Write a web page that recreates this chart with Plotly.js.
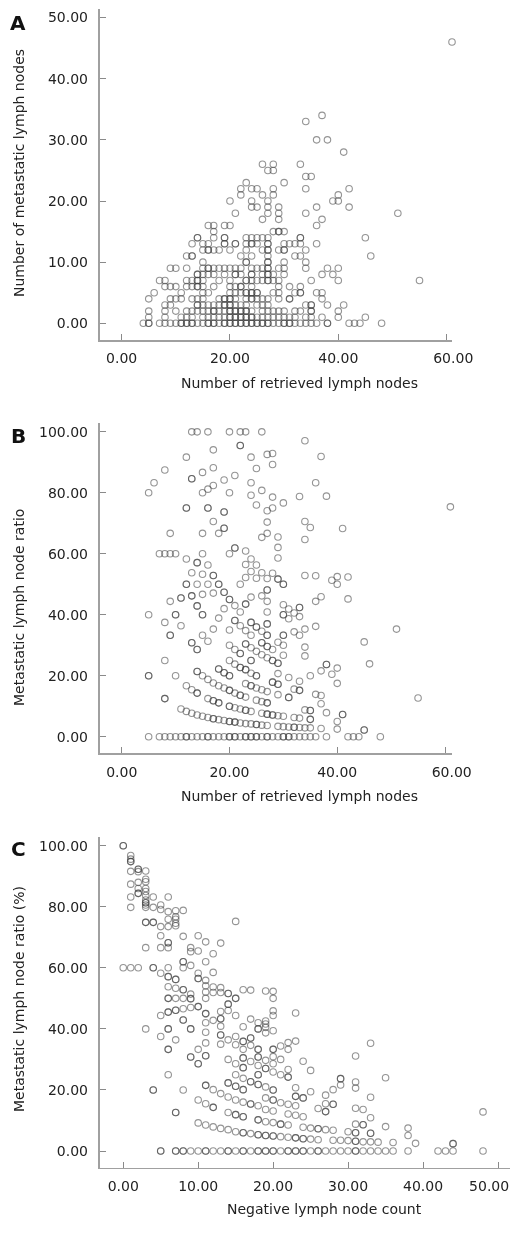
<!DOCTYPE html>
<html>
<head>
<meta charset="utf-8">
<script src="https://cdn.plot.ly/plotly-3.0.1.min.js"></script>
<style>html,body{margin:0;padding:0;background:#fff}#chart{width:531px;height:1233px;filter:blur(0.45px)}</style>
</head>
<body>
<div id="chart"></div>
<script>
const aLevels = [0,1,2,3,4,5,6,7,8,9,10,11,12,13,14,15,16,17,18,19,20,21,22,23,24,25,26,28,30,33,34,46];
const aXByLevel = [
 [4,5,7,8,9,10,11,12,13,14,15,16,17,18,19,20,21,22,23,24,25,26,27,28,29,30,31,32,33,34,35,36,38,42,43,44,48,12,13,16,17,19,20,21,22,23,24,25,26,27,30,31,11,5,38],
 [5,8,11,12,13,15,16,17,18,19,20,21,22,23,24,25,26,27,28,29,30,31,32,34,35,37,40,45,20,21,22,23,24],
 [5,8,10,12,13,14,15,16,17,18,19,20,21,22,23,24,26,27,28,29,30,32,33,35,40,17,20,21,22,23,35],
 [8,9,14,15,16,17,18,19,20,21,22,23,25,26,27,34,35,38,41,14,19,20,35],
 [5,9,10,11,13,14,15,18,19,20,21,23,24,25,26,27,29,31,37,19,20,24,31],
 [6,11,15,16,20,21,22,23,24,25,28,29,32,33,36,37,23,24,25,33],
 [8,9,10,12,13,14,15,17,20,21,22,24,29,31,33,14,22],
 [7,8,12,13,14,15,18,20,23,24,25,26,27,28,29,35,40,55,23,27,14],
 [14,15,16,17,19,21,22,24,26,27,28,30,37,39,14,21,24,27],
 [9,10,12,15,16,17,18,19,20,21,22,24,25,26,27,29,30,34,38,40,16,27],
 [15,23,27,30,34,23,27],
 [12,13,22,24,27,32,33,46,13],
 [15,16,17,18,20,23,26,27,29,30,34,16,27,30],
 [13,15,16,19,21,23,24,25,27,30,31,32,33,36,19,21,24,27],
 [14,17,19,23,24,25,26,27,33,45,14,19,33],
 [17,28,29,30,29],
 [16,17,19,20,36],
 [26,29,37],
 [21,27,29,34,51],
 [24,25,27,29,36,42],
 [20,24,27,39,40],
 [22,26,28,40],
 [22,24,25,28,34,42],
 [23,30],
 [34,35],
 [27,28],
 [26,28,33],
 [41],
 [36,38],
 [34],
 [37],
 [61]
];
const bZeroRow = [5,7,8,9,10,11,12,13,14,15,16,17,18,19,20,21,22,23,24,25,26,27,28,29,30,31,32,33,34,35,36,38,42,43,44,48,12,16,20,21,23,24,25,27,30,31];
const bPoints = [
 [13,100],[14,100],[16,100],[20,100],[22,100],[23,100],[26,100],[34,97.1],[22,95.5],[17,94.1],[12,91.7],[24,91.7],[37,91.9],[27,92.6],[28,92.9],[28,89.3],
 [8,87.5],[15,86.7],[17,88.2],[25,88],[13,84.6],[6,83.3],[19,84.2],[21,85.7],[24,83.3],[36,83.3],[5,80],[15,80],[16,81.2],[17,82.4],[20,80],[26,80.8],[24,79.2],[28,78.6],[33,78.8],[38,78.9],
 [30,76.7],[25,76],[28,75],[27,74.1],[12,75],[16,75],[19,73.7],[61,75.4],[17,70.6],[27,70.4],[34,70.6],[35,68.6],[41,68.3],[19,68.4],[9,66.7],[15,66.7],[18,66.7],[27,66.7],[26,65.4],[29,65.5],[34,64.7],
 [29,62.1],[21,61.9],[23,60.9],[7,60],[8,60],[9,60],[10,60],[15,60],[20,60],[12,58.3],[29,58.6],[24,58.3],[14,57.1],[16,56.3],[23,56.5],[25,56.3],
 [13,53.8],[15,53.3],[17,52.9],[26,53.8],[28,53.6],[24,54.2],[23,52.2],[25,52],[27,51.9],[29,51.7],[34,52.9],[36,52.8],[39,51.3],[40,52.5],[40,50],[42,52.4],
 [12,50],[14,50],[16,50],[18,50],[22,50],[30,50],[27,48.1],[19,47.4],[15,46.7],[17,47.1],[26,46.2],[24,45.8],[13,46.2],[11,45.5],[20,45],[9,44.4],[27,44.4],[36,44.4],[37,45.9],[42,45.2],
 [23,43.5],[30,43.3],[14,42.9],[21,43],[19,42],[31,41.9],[33,42.4],[22,40.9],[27,40.9],[32,40.6],[5,40],[10,40],[15,40],[30,40],[33,39.4],[31,38.7],[18,38.9],[8,37.5],[21,38.1],[24,37.5],[27,37],[11,36.4],[22,36.4],[25,36],[36,36.2],[34,35.3],[17,35.3],[20,35],[23,34.8],[26,34.6],[32,34.4],
 [30,33.3],[9,33.3],[15,33.3],[24,33.3],[27,33.3],[33,33.3],[16,31.3],[13,30.8],[26,30.8],[23,30.4],[29,31],[20,30],[27,29.6],[30,30],[34,29.4],[21,28.6],[24,29.2],[28,28.6],[25,28],[14,28.6],[22,27.3],[26,26.9],[30,26.7],[34,26.5],[27,25.9],
 [8,25],[20,25],[21,23.8],[24,25],[28,25],[29,24.1],[46,23.9],[38,23.7],[22,22.7],[23,22],[18,22.2],[37,21.6],[40,22.5],[14,21.4],[19,21],[24,20.8],[20,20],[25,20],[29,20.7],[39,20.5],[5,20],[10,20],[15,20],[16,18.8],[35,20],[31,19.4],[33,18.2],[17,17.6],[18,16.7],[28,17.9],[29,17.2],[40,17.5],
 [12,16.7],[13,15.4],[14,14.3],[19,16],[20,15.2],[21,14.3],[22,13.6],[23,13],[23,17.4],[24,16.7],[25,16],[26,15.4],[27,14.8],[32,15.6],[33,15.2],[29,13.8],[31,12.9],[36,13.9],[37,13.5],[8,12.5],[16,12.5],[17,11.8],[18,11.1],[25,12],[26,11.5],[27,11.1],[37,10.8],[55,12.7],[45,31.1],[51,35.3],
 [20,10],[21,9.5],[22,9.1],[23,8.7],[24,8.3],[11,9.1],[12,8.3],[13,7.7],[14,7.1],[15,6.7],[16,6.3],[17,5.9],[18,5.6],[19,5.3],[20,5],[21,4.8],[22,4.5],[23,4.3],[24,4.2],[25,4],[26,7.7],[27,7.4],[28,7.1],[29,6.9],[30,6.7],[32,6.3],[33,6.1],[34,8.8],[35,8.6],[35,5.7],[38,7.9],[41,7.3],[40,5],[26,3.8],[27,3.7],[29,3.4],[30,3.3],[31,3.2],[32,3.1],[33,3],[34,2.9],[35,2.9],[37,2.7],[40,2.5],[45,2.2]
];
const bRepeats = [[13,84.6],[12,75],[16,75],[19,73.7],[19,68.4],[21,61.9],[14,57.1],[17,52.9],[29,51.7],[12,50],[18,50],[30,50],[27,48.1],[19,47.4],[13,46.2],[11,45.5],[20,45],[23,43.5],[14,42.9],[33,42.4],[10,40],[15,40],[30,40],[21,38.1],[24,37.5],[27,37],[25,36],[30,33.3],[9,33.3],[27,33.3],[13,30.8],[26,30.8],[23,30.4],[27,29.6],[14,28.6],[22,27.3],[24,25],[28,25],[29,24.1],[38,23.7],[22,22.7],[23,22],[18,22.2],[14,21.4],[19,21],[20,20],[25,20],[5,20],[28,17.9],[29,17.2],[14,14.3],[20,15.2],[22,13.6],[24,16.7],[33,15.2],[31,12.9],[8,12.5],[17,11.8],[18,11.1],[27,11.1],[20,10],[23,8.7],[17,5.9],[20,5],[21,4.8],[25,4],[27,7.4],[28,7.1],[35,8.6],[35,5.7],[41,7.3],[32,3.1],[45,2.2],[22,95.5]];

const cZeroRow = [5,7,8,9,10,11,12,13,14,15,16,17,18,19,20,21,22,23,24,25,26,27,28,29,30,31,32,33,34,35,36,38,42,43,44,48,5,7,8,11,14,16,18,19,20,22,23,24,26,31];
const cPoints = [
 [0,100],[1,96.8],[1,95.6],[1,94.8],[1,91.6],[2,92.3],[2,91.5],[3,91.7],[3,89],[3,88.2],[1,87.4],[2,88],[2,86],[3,86],[2,84.4],[3,85],[3,83.7],[1,83.2],[4,83.2],[6,83.2],[3,82.2],[3,81.3],[3,80.6],[3,79.8],[1,79.8],[4,79.8],[5,80.6],[5,79.1],[6,78.4],[7,78.7],[8,78.8],[7,76.7],[7,75.9],[6,75.9],[7,74.6],[7,73.8],[6,73.5],[5,73.5],[3,74.9],[4,74.9],[15,75.2],
 [5,70.5],[8,70.3],[10,70.5],[11,68.5],[13,68.1],[6,68.2],[3,66.6],[5,66.6],[6,66.6],[9,66.6],[9,65.3],[10,65.5],[12,64.6],[11,62],[8,62],[0,60],[1,60],[2,60],[4,60],[6,60],[8,60],[9,60.8],[5,58.2],[10,58.2],[12,58.5],[6,57.1],[10,56.5],[7,56.2],[11,55.9],[11,54.1],[6,53.8],[7,53.3],[8,52.8],[12,53.7],[13,53.5],[11,52.1],[12,51.9],[13,51.9],[14,51.6],[16,52.8],[17,52.7],[19,52.4],[20,52.3],[9,51.4],[9,49.9],
 [6,50],[7,50],[8,50],[11,50],[15,50],[20,50],[14,48.1],[9,47],[10,47.3],[8,46.6],[7,46.1],[6,45.5],[5,44.4],[11,45],[13,45.7],[14,46],[15,44.4],[20,45.9],[20,44.4],[23,45.2],
 [8,42.9],[13,43.3],[12,42.8],[11,42],[17,43.2],[18,42],[19,42.6],[19,41.6],[13,40.9],[16,40.7],[18,40],[19,40.5],[3,40],[6,40],[9,40],[20,39.4],[19,38.7],[11,38.9],[13,38],[5,37.5],[15,37.5],[17,37],[7,36.4],[14,36.4],[16,35.9],[23,36],[22,35.5],[33,35.3],[11,35.4],[13,35],[15,34.8],[17,34.6],[21,34.4],
 [6,33.3],[10,33.3],[16,33.3],[18,33.3],[20,33.3],[22,33.3],[11,31.2],[9,30.8],[31,31.1],[18,30.8],[16,30.5],[20,30.9],[21,30],[14,30],[19,29.7],[17,29.3],[24,29.4],[10,28.6],[15,28.6],[18,28],[20,28.6],[16,27.3],[19,27],[22,26.7],[25,26.4],[20,25.9],[21,25],[22,24.2],[18,25],[6,25],[15,25],[16,23.8],[29,23.7],[35,24],[17,22.7],[31,22.6],[14,22.3],[18,21.8],[29,21.6],[11,21.5],[15,21.2],[12,20.1],[16,20.1],[19,21],[4,20],[8,20],[20,20],[23,20.7],[31,20.6],[28,20.1],
 [25,19.4],[13,18.8],[27,18.3],[23,17.9],[24,17.4],[14,17.7],[33,17.6],[19,17.4],[20,16.7],[15,16.7],[10,16.7],[11,15.5],[16,16],[17,15.4],[21,15.8],[18,14.8],[22,15.3],[23,14.8],[12,14.3],[19,13.6],[27,15.5],[28,15.3],[26,13.9],[31,14],[32,13.6],[20,13.1],[7,12.6],[27,12.9],[14,12.6],[15,11.9],[16,11.2],[22,12.1],[23,11.7],[24,11.2],[33,10.9],[48,12.8],
 [18,10.2],[19,9.6],[20,9.3],[21,8.8],[22,8.5],[31,8.8],[32,8.6],[10,9.2],[11,8.5],[12,7.9],[13,7.4],[14,7],[15,6.3],[16,6],[17,5.7],[18,5.3],[19,5.1],[20,4.9],[21,4.7],[22,4.5],[23,4.3],[24,4],[24,7.8],[25,7.5],[26,7.3],[27,7],[28,6.8],[35,8],[38,7.5],[38,5.1],[30,6.3],[31,6],[33,5.8],[25,3.9],[26,3.7],[28,3.5],[29,3.5],[30,3.4],[31,3.2],[32,3],[33,3],[34,2.9],[36,2.8],[39,2.5],[44,2.4]
];
const cRepeats = [[0,100],[1,94.8],[2,92.3],[2,84.4],[3,81.3],[3,74.9],[4,74.9],[6,68.2],[8,62],[4,60],[6,57.1],[10,56.5],[7,56.2],[8,52.8],[14,51.6],[9,49.9],[6,50],[15,50],[14,48.1],[10,47.3],[7,46.1],[6,45.5],[11,45],[8,42.9],[13,43.3],[18,40],[6,40],[9,40],[13,38],[17,37],[16,35.9],[6,33.3],[18,33.3],[20,33.3],[11,31.2],[9,30.8],[18,30.8],[16,30.5],[10,28.6],[16,27.3],[19,27],[22,24.2],[18,25],[29,23.7],[17,22.7],[14,22.3],[18,21.8],[11,21.5],[15,21.2],[16,20.1],[4,20],[20,20],[23,17.9],[24,17.4],[20,16.7],[17,15.4],[12,14.3],[28,15.3],[7,12.6],[27,12.9],[15,11.9],[16,11.2],[18,10.2],[21,8.8],[32,8.6],[16,6],[18,5.3],[19,5.1],[20,4.9],[23,4.3],[24,4],[26,7.3],[31,6],[33,5.8],[31,3.2],[44,2.4]];

const xTicksAB = [0,20,40,60];
const xTicksC = [0,10,20,30,40,50];
const yTicksA = [0,10,20,30,40,50];
const yTicksBC = [0,20,40,60,80,100];
const xTitleAB = 'Number of retrieved lymph nodes';
const xTitleC = 'Negative lymph node count';
const yTitleA = 'Number of metastatic lymph nodes';
const yTitleB = 'Metastatic lymph node ratio';
const yTitleC = 'Metastatic lymph node ratio (%)';

const W = 531, H = 1233;
const FONT = 'DejaVu Sans, sans-serif';
const TXT = '#222';
const NB = '\u00a0';

const aX = [], aY = [];
aLevels.forEach((lv, i) => aXByLevel[i].forEach(x => { aX.push(x); aY.push(lv); }));
const bAll = bPoints.concat(bRepeats).concat(bZeroRow.map(x => [x, 0]));
const cAll = cPoints.concat(cRepeats).concat(cZeroRow.map(x => [x, 0]));

function tr(x, y, n) {
  return {
    type: 'scatter', mode: 'markers', x, y,
    xaxis: 'x' + n, yaxis: 'y' + n, showlegend: false, cliponaxis: false,
    marker: {symbol: 'circle-open', size: 6.5, color: 'rgba(60,60,60,0.55)', line: {width: 1.1, color: 'rgba(60,60,60,0.55)'}}
  };
}
function xax(l, r, range, ticks, anchor, labels) {
  return {
    domain: [l / W, r / W], range, anchor, tickmode: 'array', tickvals: ticks,
    ticktext: labels, ticks: 'inside', ticklen: 6, tickwidth: 1, tickcolor: '#8a8a8a',
    showline: true, linecolor: '#a0a0a0', linewidth: 1.6, showgrid: false, zeroline: false,
    ticklabelstandoff: 5, tickfont: {family: FONT, size: 14, color: TXT}
  };
}
function yax(t, b, range, ticks, anchor) {
  return {
    domain: [1 - b / H, 1 - t / H], range, anchor, tickmode: 'array', tickvals: ticks,
    ticktext: ticks.map(v => v.toFixed(2)), ticks: 'inside', ticklen: 6, tickwidth: 1, tickcolor: '#8a8a8a',
    showline: true, linecolor: '#a0a0a0', linewidth: 2.2, showgrid: false, zeroline: false,
    ticklabelstandoff: 7, tickfont: {family: FONT, size: 14, color: TXT}
  };
}
function txt(text, px, py, size, extra) {
  return Object.assign({
    text, xref: 'paper', yref: 'paper', x: px / W, y: 1 - py / H, xanchor: 'center', yanchor: 'middle',
    showarrow: false, font: {family: FONT, size, color: TXT}
  }, extra || {});
}
const labelsAB = xTicksAB.map(v => (v === 60 ? NB + NB + NB : '') + v.toFixed(2));
const labelsC = xTicksC.map(v => v.toFixed(2) + (v === 50 ? NB + NB + NB + NB : ''));
const layout = {
  width: W, height: H, margin: {l: 0, r: 0, t: 0, b: 0}, paper_bgcolor: '#fff', plot_bgcolor: '#fff',
  xaxis: xax(100, 452, [-4.0, 61], xTicksAB, 'y', labelsAB),
  yaxis: yax(9, 340, [-2.73, 51.4], yTicksA, 'x'),
  xaxis2: xax(100, 452, [-4.03, 61.3], xTicksAB, 'y2', labelsAB),
  yaxis2: yax(423, 753.3, [-5.44, 102.9], yTicksBC, 'x2'),
  xaxis3: xax(100, 510, [-3.1, 51.6], xTicksC, 'y3', labelsC),
  yaxis3: yax(837, 1167.7, [-5.47, 102.85], yTicksBC, 'x3'),
  annotations: [
    txt('<b>A</b>', 18, 23, 20, {font: {family: FONT, size: 20, color: '#111'}}),
    txt('<b>B</b>', 18, 436, 20, {font: {family: FONT, size: 20, color: '#111'}}),
    txt('<b>C</b>', 18, 849, 20, {font: {family: FONT, size: 20, color: '#111'}}),
    txt(xTitleAB, 299, 383, 14),
    txt(xTitleAB, 299, 796, 14),
    txt(xTitleC, 324, 1209, 14),
    txt(yTitleA, 19, 173, 14, {textangle: -90}),
    txt(yTitleB, 19, 608, 14, {textangle: -90}),
    txt(yTitleC, 19, 999, 14, {textangle: -90})
  ]
};
Plotly.newPlot('chart', [
  tr(aX, aY, ''),
  tr(bAll.map(p => p[0]), bAll.map(p => p[1]), '2'),
  tr(cAll.map(p => p[0]), cAll.map(p => p[1]), '3')
], layout, {displayModeBar: false, staticPlot: true});
</script>
</body>
</html>
